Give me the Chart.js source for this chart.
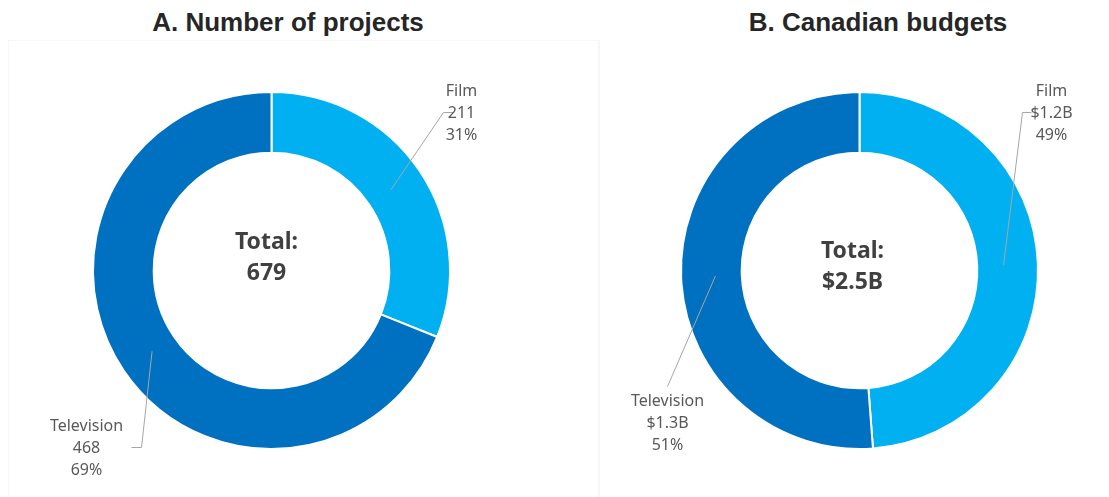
<!DOCTYPE html>
<html>
<head>
<meta charset="utf-8">
<script src="https://cdn.jsdelivr.net/npm/chart.js@4.4.1/dist/chart.umd.min.js"></script>
<style>
  body { margin: 0; width: 1109px; height: 497px; background: #fff; overflow: hidden; position: relative; }
  .title {
    position: absolute; top: 7px; transform: translateX(-50%); white-space: nowrap;
    font-family: "Liberation Sans", Arial, sans-serif; font-weight: bold; font-size: 26px; color: #262626;
  }
  .panel { position: absolute; border: 1px solid #f7f7f7; }
  canvas { position: absolute; top: 0; }
</style>
</head>
<body>
<div class="panel" style="left:8px;top:40px;width:590px;height:480px"></div>
<div class="panel" style="left:598px;top:40px;width:540px;height:480px;border-top-color:transparent"></div>
<div class="title" style="left:288px">A. Number of projects</div>
<div class="title" style="left:878px">B. Canadian budgets</div>
<canvas id="chartA" width="544" height="497" style="left:0"></canvas>
<canvas id="chartB" width="565" height="497" style="left:544px"></canvas>

<script>
const categories = ['Film', 'Television'];
const projectCounts = [211, 468];
const budgetBillions = [1.22, 1.28];
const sliceColours = ['#00b0f0', '#0070c0'];

const labelFont = '16px "Noto Sans", "Open Sans", sans-serif';
const totalFont = 'bold 23px "Noto Sans", "Open Sans", sans-serif';

function sum(arr) { return arr.reduce((a, b) => a + b, 0); }
function pct(v, arr) { return Math.round(v / sum(arr) * 100) + '%'; }
function money(v) { return '$' + v.toFixed(1) + 'B'; }

// callout text and leader line, drawn next to each slice
const calloutPlugin = {
  id: 'callouts',
  afterDraw(chart, args, opts) {
    const ctx = chart.ctx;
    const meta = chart.getDatasetMeta(0);
    const values = chart.data.datasets[0].data;
    ctx.save();
    meta.data.forEach((arc, i) => {
      const p = arc.getProps(['x', 'y', 'startAngle', 'endAngle', 'innerRadius', 'outerRadius'], true);
      const mid = (p.startAngle + p.endAngle) / 2;
      const r = (p.innerRadius + p.outerRadius) / 2 - 4;
      const lay = opts.layout[i];
      // leader line from inside the slice out to the text
      ctx.strokeStyle = '#a6a6a6';
      ctx.lineWidth = 1;
      ctx.beginPath();
      ctx.moveTo(p.x + Math.cos(mid) * r, p.y + Math.sin(mid) * r);
      lay.line.forEach(pt => ctx.lineTo(p.x + pt[0], p.y + pt[1]));
      ctx.stroke();
      // three lines of text: category, value, share
      const lines = [chart.data.labels[i], opts.format(values[i]), pct(values[i], values)];
      ctx.fillStyle = '#595959';
      ctx.font = labelFont;
      ctx.textAlign = 'center';
      ctx.textBaseline = 'middle';
      lines.forEach((t, k) => ctx.fillText(t, p.x + lay.text[0], p.y + lay.text[1] + k * 22));
    });
    // total in the hole
    const c = meta.data[0];
    ctx.fillStyle = '#404040';
    ctx.font = totalFont;
    ctx.fillText('Total:', c.x + opts.total[0], c.y + opts.total[1]);
    ctx.fillText(opts.format(sum(values)), c.x + opts.total[0], c.y + opts.total[1] + 31);
    ctx.restore();
  }
};

function makeDonut(id, values, padding, format, layout, total) {
  return new Chart(document.getElementById(id), {
    type: 'doughnut',
    data: {
      labels: categories,
      datasets: [{
        data: values,
        backgroundColor: sliceColours,
        borderColor: '#ffffff',
        borderWidth: 2
      }]
    },
    options: {
      responsive: false,
      animation: false,
      cutout: '66%',
      layout: { padding: padding },
      plugins: {
        legend: { display: false },
        tooltip: { enabled: false },
        callouts: { format: format, layout: layout, total: total }
      }
    },
    plugins: [calloutPlugin]
  });
}

makeDonut('chartA', projectCounts,
  { top: 91, bottom: 47, left: 92, right: 93 },
  v => String(v),
  [
    { text: [190, -179], line: [[172, -158], [182, -158]] },
    { text: [-185, 156], line: [[-130, 177], [-140, 177]] }
  ],
  [-5, -28]);

makeDonut('chartB', budgetBillions,
  { top: 91, bottom: 47, left: 136, right: 70 },
  money,
  [
    { text: [192, -179], line: [[163, -158], [172, -158]] },
    { text: [-192, 131], line: [[-192, 116]] }
  ],
  [-7, -19]);
</script>
</body>
</html>
